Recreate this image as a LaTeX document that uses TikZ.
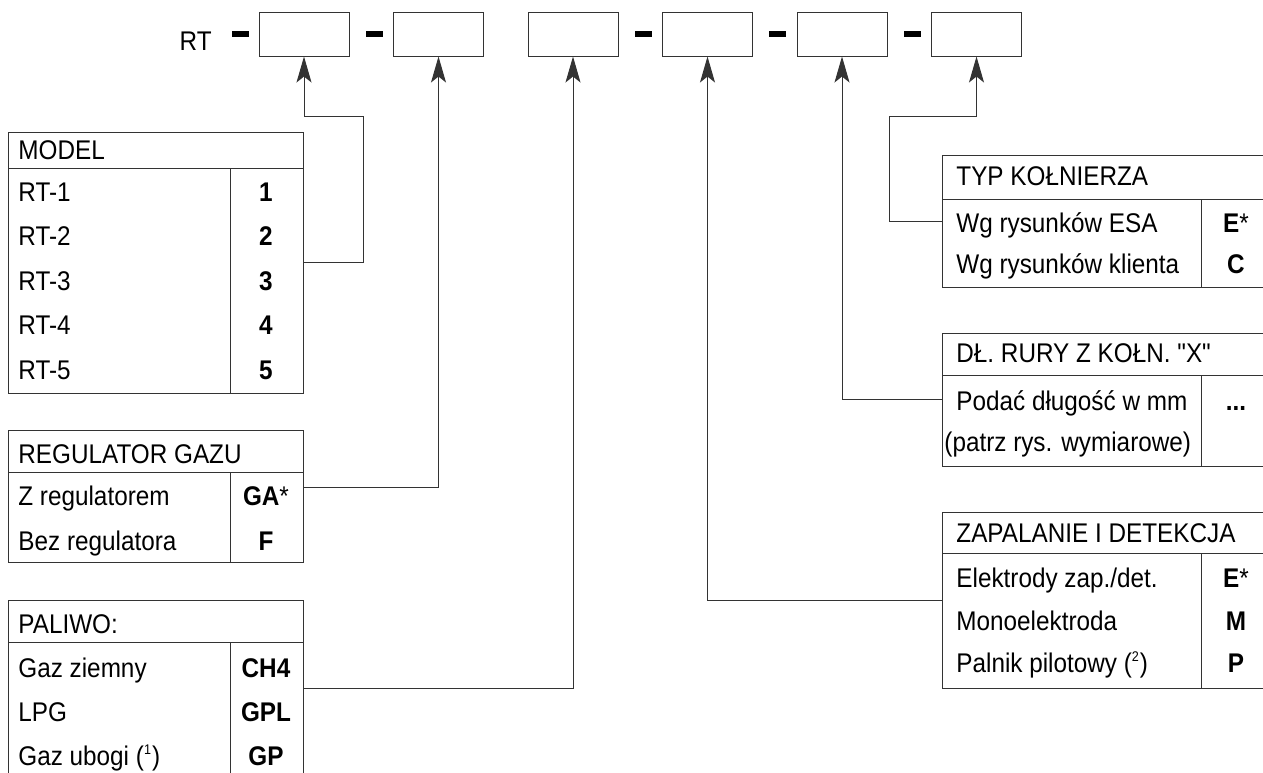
\documentclass[tikz,border=0pt]{standalone}
\usepackage{fontspec}
\setmainfont{Liberation Sans}[FakeStretch=0.9]
\newfontfamily\plainfont{Liberation Sans}[FakeStretch=0.9]
\usepackage{tikz}
\usetikzlibrary{arrows.meta, positioning, fit}

\newcommand\tblfont{\fontsize{13.5pt}{16pt}\selectfont}

\begin{document}
\begin{tikzpicture}[
  x=0.5pt, y=-0.5pt,
  slot/.style  = {draw=black!80, line width=0.5pt, rectangle,
                  minimum width=45pt, minimum height=22pt, inner sep=0},
  dashbar/.style = {fill=black, rectangle, minimum width=8.5pt,
                  minimum height=2.6pt, inner sep=0},
  tbl/.style   = {draw=black!80, line width=0.5pt, rectangle, inner sep=0},
  rule/.style  = {draw=black!80, line width=0.5pt},
  txt/.style   = {anchor=base west, inner sep=0, font=\tblfont},
  code/.style  = {anchor=base, inner sep=0, font=\tblfont\bfseries},
  arr/.style   = {-{Stealth[length=13pt, width=7.5pt, inset=3pt]},
                  draw=black!80, line width=0.5pt},
]
\clip (0,0) rectangle (1263,772);

% code slots along the top
\node[slot] (b1) at (304,34) {};
\node[slot, right=21.75pt of b1] (b2) {};
\node[slot, right=21.75pt of b2] (b3) {};
\node[slot, right=21.75pt of b3] (b4) {};
\node[slot, right=21.75pt of b4] (b5) {};
\node[slot, right=21.75pt of b5] (b6) {};

\node[dashbar, left=4.5pt of b1] (d0) {};
\node[dashbar, right=8pt of b1] (d1) {};
\node[dashbar, right=8pt of b3] (d3) {};
\node[dashbar, right=8pt of b4] (d4) {};
\node[dashbar, right=8pt of b5] (d5) {};
\node[txt, anchor=base east] (rt) at (212,50) {RT};

% MODEL
\node[tbl, fit={(8,132) (303,393)}] (model) {};
\draw[rule] (8,168) -- (303,168) (230,168) -- (230,393);
\node[txt] (mhd) at (18,159) {MODEL};
\node[txt] (m1) at (18,201) {RT-1};   \node[code] (mc1) at (266,201) {1};
\node[txt] (m2) at (18,245.5) {RT-2}; \node[code] (mc2) at (266,245.5) {2};
\node[txt] (m3) at (18,290) {RT-3};   \node[code] (mc3) at (266,290) {3};
\node[txt] (m4) at (18,334.5) {RT-4}; \node[code] (mc4) at (266,334.5) {4};
\node[txt] (m5) at (18,379) {RT-5};   \node[code] (mc5) at (266,379) {5};

% REGULATOR GAZU
\node[tbl, fit={(8,430) (303,562)}] (reg) {};
\draw[rule] (8,472) -- (303,472) (230,472) -- (230,562);
\node[txt] (rhd) at (18,463) {REGULATOR GAZU};
\node[txt] (r1) at (18,505) {Z regulatorem};   \node[code] (rc1) at (266,505) {GA\mdseries*};
\node[txt] (r2) at (18,550) {Bez regulatora};  \node[code] (rc2) at (266,550) {F};

% PALIWO
\node[tbl, fit={(8,600) (303,776)}] (fuel) {};
\draw[rule] (8,642) -- (303,642) (230,642) -- (230,776);
\node[txt] (fhd) at (18,633) {PALIWO:};
\node[txt] (f1) at (18,677) {Gaz ziemny};  \node[code] (fc1) at (266,677) {CH4};
\node[txt] (f2) at (18,721) {LPG};         \node[code] (fc2) at (266,721) {GPL};
\node[txt] (f3) at (18,765) {Gaz ubogi (\textsuperscript{\scriptsize 1})}; \node[code] (fc3) at (266,765) {GP};

% TYP KOLNIERZA
\node[tbl, fit={(942,155) (1275,287)}] (flange) {};
\draw[rule] (942,199) -- (1275,199) (1201,199) -- (1201,287);
\node[txt] (thd) at (956,185) {TYP KOŁNIERZA};
\node[txt] (t1) at (956,232) {Wg rysunków ESA};     \node[code] (tc1) at (1236,232) {E\mdseries*};
\node[txt] (t2) at (956,273) {Wg rysunków klienta}; \node[code] (tc2) at (1236,273) {C};

% DL. RURY
\node[tbl, fit={(942,333) (1275,466)}] (pipe) {};
\draw[rule] (942,375) -- (1275,375) (1201,375) -- (1201,466);
\node[txt] (phd) at (956,362) {\plainfont DŁ. RURY Z KOŁN. "X"};
\node[txt] (p1) at (956,410) {Podać długość w mm};      \node[code] (pc1) at (1236,410) {...};
\node[txt] (p2) at (944,451) {(patrz rys. wymiarowe)};

% ZAPALANIE I DETEKCJA
\node[tbl, fit={(942,512) (1275,688)}] (ign) {};
\draw[rule] (942,553) -- (1275,553) (1201,553) -- (1201,688);
\node[txt] (zhd) at (956,542) {ZAPALANIE I DETEKCJA};
\node[txt] (z1) at (956,587) {Elektrody zap./det.};  \node[code] (zc1) at (1236,587) {E\mdseries*};
\node[txt] (z2) at (956,630) {Monoelektroda};        \node[code] (zc2) at (1236,630) {M};
\node[txt] (z3) at (956,672) {Palnik pilotowy (\textsuperscript{\scriptsize 2})}; \node[code] (zc3) at (1236,672) {P};

% leaders from the tables up to the slots
\coordinate (k1) at (363,116);
\coordinate (k6) at (889,116);
\draw[arr] (model.east) -| (k1) -| (b1.south);
\draw[arr] ([yshift=4.5pt]reg.east) -| (b2.south);
\draw[arr] (fuel.east) -| (b3.south);
\draw[arr] (ign.west) -| (b4.south);
\draw[arr] (pipe.west) -| (b5.south);
\draw[arr] (flange.west) -| (k6) -| (b6.south);

\end{tikzpicture}
\end{document}
